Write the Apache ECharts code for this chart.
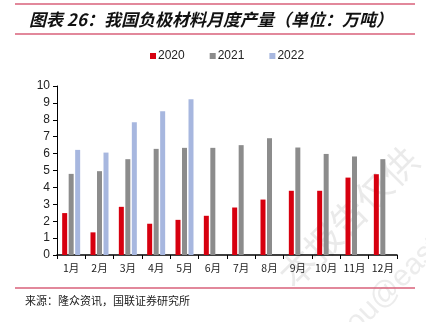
<!DOCTYPE html>
<html><head><meta charset="utf-8">
<script src="https://cdn.jsdelivr.net/npm/echarts@6/dist/echarts.min.js"></script>
<style>html,body{margin:0;padding:0;background:#fff}#c{width:426px;height:322px}</style>
</head><body><div id="c"></div>
<script>
const categories = ['1月','2月','3月','4月','5月','6月','7月','8月','9月','10月','11月','12月'];
const s2020 = [2.48,1.34,2.85,1.85,2.08,2.32,2.81,3.28,3.8,3.8,4.58,4.78];
const s2021 = [4.8,4.96,5.67,6.28,6.34,6.34,6.5,6.91,6.36,5.98,5.83,5.67];
const s2022 = [6.22,6.06,7.86,8.5,9.21];
const seriesNames = ['2020','2021','2022'];
const colors = ['#d7000f','#8c8c8c','#a7b7df'];

const chart = echarts.init(document.getElementById('c'));
const font = '"Liberation Sans", Arial, sans-serif';
chart.setOption({
  animation:false,
  title:{text:'图表 26：我国负极材料月度产量（单位：万吨）',left:24,top:6,
    textStyle:{fontFamily:'"Noto Sans CJK SC"',fontStyle:'italic',fontWeight:'bold',fontSize:17,color:'#111'}},
  legend:{top:45,left:145,itemWidth:6,itemHeight:6,itemGap:25,icon:'rect',
    textStyle:{fontFamily:font,fontSize:12,color:'#222',padding:[0,0,0,-3]},data:seriesNames},
  grid:{left:57,right:29,top:86,bottom:67},
  xAxis:{type:'category',data:categories,
    axisLine:{lineStyle:{color:'#000',width:1.5}},
    axisTick:{show:true,alignWithLabel:false,length:4,lineStyle:{color:'#000'}},
    axisLabel:{interval:0,fontFamily:'"Noto Sans CJK SC"',fontSize:10.5,color:'#222',margin:8}},
  yAxis:{type:'value',min:0,max:10,interval:1,
    axisLine:{show:true,lineStyle:{color:'#000'}},
    axisTick:{show:true,length:4,lineStyle:{color:'#000'}},
    splitLine:{show:false},
    axisLabel:{fontFamily:font,fontSize:12,color:'#222',margin:7}},
  series:[
    {name:'2020',type:'bar',data:s2020,barWidth:5,barGap:'30%',itemStyle:{color:colors[0]}},
    {name:'2021',type:'bar',data:s2021,barWidth:5,barGap:'30%',itemStyle:{color:colors[1]}},
    {name:'2022',type:'bar',data:s2022,barWidth:5,barGap:'30%',itemStyle:{color:colors[2]}}
  ],
  graphic:[
    {type:'line',shape:{x1:15,y1:4,x2:415,y2:4},style:{stroke:'#d9607a',lineWidth:1.5}},
    {type:'line',shape:{x1:15,y1:34,x2:415,y2:34},style:{stroke:'#d9607a',lineWidth:1.5}},
    {type:'line',shape:{x1:15,y1:288,x2:415,y2:288},style:{stroke:'#d9607a',lineWidth:1.5}},
    {type:'text',left:25,top:295,style:{text:'来源：隆众资讯，国联证券研究所',font:'11px "Noto Sans CJK SC"',fill:'#222'}},
    {type:'text',x:272,y:268,rotation:Math.PI/4,style:{text:'本报告仅供',font:'36px "Noto Sans CJK SC"',fill:'rgba(150,150,150,0.2)'},z:-1},
    {type:'text',x:318,y:340,rotation:Math.PI/4,style:{text:'shou@eastmoney',font:'30px "Liberation Sans"',fill:'rgba(150,150,150,0.18)'},z:-1}
  ]
});
</script></body></html>
